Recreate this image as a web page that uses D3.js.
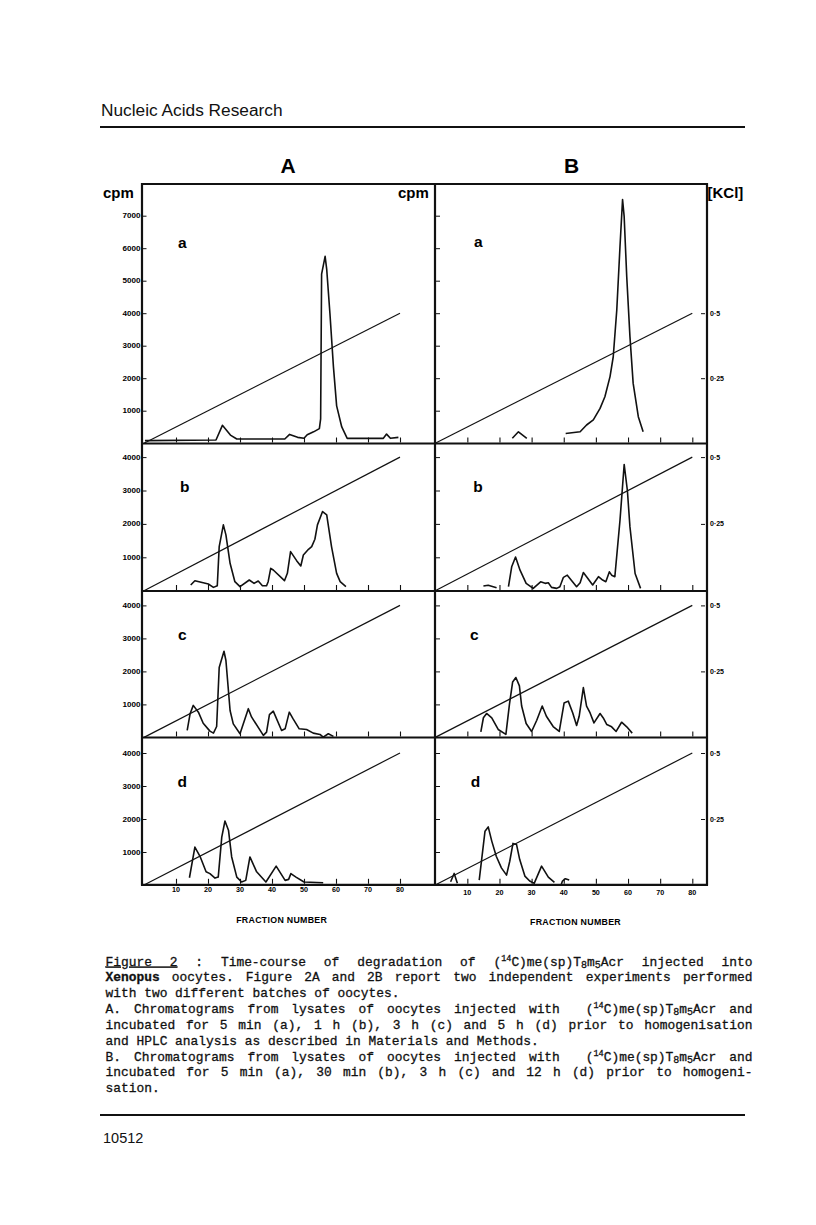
<!DOCTYPE html>
<html><head><meta charset="utf-8">
<script src="https://cdn.jsdelivr.net/npm/d3@7"></script>
<style>
body{margin:0;background:#fff}
svg{display:block}
.cap{font-family:"Liberation Mono",monospace;font-size:12.9px;white-space:pre;fill:#111;stroke:#111;stroke-width:0.3px}
</style>
</head><body>
<svg id="c" width="816" height="1225"></svg>
<script>
// ---------- DATA ----------
const columnTitles = ["A", "B"];
const panelLetters = ["a", "b", "c", "d"];
const fractionTicks = [10, 20, 30, 40, 50, 60, 70, 80];
const cpmTicksTall = [1000, 2000, 3000, 4000, 5000, 6000, 7000];
const cpmTicksShort = [1000, 2000, 3000, 4000];
const kclTicks = [0.25, 0.5];
const kclTickLabels = ["0·25", "0·5"];
const gradientFraction = [0, 80];
const gradientKCl = [0, 0.5];

// [fraction number, cpm]; null = gap in trace
const curveAa = [[0.3,80],[22.5,100],[24.5,550],[27,250],[29,130],[44,130],[45.5,270],[48,180],[50,150],[51,260],[53,350],[54.8,450],[55.2,750],[55.5,5200],[56.6,5750],[57.1,5350],[58.1,4000],[59.2,2350],[60.2,1150],[61.8,500],[63.5,150],[74.8,150],[75.8,280],[77,150],[79.5,180]];
const curveAb = [[14.6,170],[15.9,300],[18.5,240],[20.1,200],[21.7,100],[22.9,150],[23.5,1320],[24.8,1970],[25.6,1670],[26.9,820],[28.4,270],[30,120],[32.9,320],[34.4,220],[35.7,290],[37,150],[38.3,150],[38.8,270],[39.6,670],[40.4,620],[43.9,300],[44.8,520],[45.8,1170],[47.7,900],[49,740],[49.8,1070],[51.4,1240],[52.4,1320],[53.4,1540],[54.2,1970],[55.8,2370],[57.1,2270],[58.6,1320],[60.2,520],[61.3,270],[63.1,120]];
const curveAc = [[13.5,210],[14.4,715],[15.4,970],[17,765],[18.5,430],[20.6,190],[21.7,130],[22.7,330],[23.5,2120],[25,2610],[25.6,2330],[26.9,815],[27.9,410],[30,110],[32.6,870],[33.6,620],[37.3,60],[38.3,160],[39.2,690],[40.4,795],[43,210],[44.1,260],[45.4,765],[46.6,560],[48.5,260],[50.8,240],[52.9,130],[55,90],[56,10],[57.6,110],[59.2,30]];
const curveAd = [[14.2,220],[15.9,1150],[17.5,870],[19.4,400],[20.6,345],[22.2,210],[23.2,240],[24.3,1450],[25.3,1940],[26.4,1660],[27.4,850],[29,240],[30.5,90],[31.8,140],[33.1,850],[35.2,400],[38.1,90],[41.3,570],[44.1,140],[45.2,170],[45.9,345],[47.5,240],[50,90],[56,70]];
const curveBa = [[24,150],[25.9,350],[28.5,150],null,[40.6,300],[45.1,350],[47.1,560],[49.2,715],[51.3,1070],[52.8,1430],[54.4,2050],[55.4,2660],[56.5,4100],[57.5,6050],[58.3,7500],[58.8,6970],[59.6,5120],[60.6,3280],[61.6,1840],[63.2,815],[64.7,350]];
const curveBb = [[15,140],[16.5,165],[19.1,90],null,[22.8,120],[23.8,715],[25,1010],[26.4,615],[28.3,220],[30.5,70],[32.8,265],[34.2,220],[35.2,240],[36.2,100],[37.8,70],[38.8,120],[39.9,400],[41.1,465],[44,120],[45.1,240],[46.1,545],[47.1,420],[49,170],[50.8,420],[52.1,320],[53.1,270],[54.2,565],[54.9,465],[55.9,420],[57.5,2110],[58.8,3780],[59.8,3000],[60.6,1910],[62.2,515],[63.9,70]];
const curveBc = [[14.2,170],[15,595],[16,725],[17.6,595],[19.6,240],[22,90],[23.1,1000],[24.1,1680],[25.1,1815],[26.2,1560],[26.9,950],[28.3,420],[30,180],[31.6,520],[33.3,950],[34.6,640],[36.7,330],[38.6,180],[40.1,1040],[41.4,1100],[42.8,740],[44,360],[44.8,640],[46.1,1510],[47.1,950],[48.2,740],[49.4,440],[51.3,725],[52.3,590],[53.4,390],[54.9,320],[56.3,180],[58,460],[59.6,320],[61.3,130]];
const curveBd = [[4.8,100],[5.9,350],[6.9,50],null,[13.7,145],[15.5,1630],[16.5,1760],[17.6,1330],[19,870],[20.6,520],[22.2,300],[23.2,720],[24.2,1260],[25.3,1230],[26.3,770],[27.9,270],[29.4,120],[30.8,50],[33.1,570],[35.2,240],[37.1,80],null,[39.2,10],[39.6,120],[40.5,190],[41.7,150]];

const captionLines = [
  {j:true, segs:[["u","Figure 2"],["n"," : Time-course of degradation of ("],["sup","14"],["n","C)me(sp)T"],["sub","8"],["n","m"],["sub","5"],["n","Acr injected into"]]},
  {j:true, segs:[["b","Xenopus"],["n"," oocytes. Figure 2A and 2B report two independent experiments performed"]]},
  {j:false, segs:[["n","with two different batches of oocytes."]]},
  {j:true, segs:[["n","A. Chromatograms from lysates of oocytes injected with  ("],["sup","14"],["n","C)me(sp)T"],["sub","8"],["n","m"],["sub","5"],["n","Acr and"]]},
  {j:true, segs:[["n","incubated for 5 min (a), 1 h (b), 3 h (c) and 5 h (d) prior to homogenisation"]]},
  {j:false, segs:[["n","and HPLC analysis as described in Materials and Methods."]]},
  {j:true, segs:[["n","B. Chromatograms from lysates of oocytes injected with  ("],["sup","14"],["n","C)me(sp)T"],["sub","8"],["n","m"],["sub","5"],["n","Acr and"]]},
  {j:true, segs:[["n","incubated for 5 min (a), 30 min (b), 3 h (c) and 12 h (d) prior to homogeni-"]]},
  {j:false, segs:[["n","sation."]]}
];

// ---------- LAYOUT ----------
const svg = d3.select("#c");
const cols = [
  {left:142, right:435, x0:144, x80:400, curves:[curveAa,curveAb,curveAc,curveAd]},
  {left:435, right:707, x0:435.2, x80:692.3, curves:[curveBa,curveBb,curveBc,curveBd]}
];
const rows = [
  {top:184, bottom:443.5, y0:443.2, k:32.5, ticks:cpmTicksTall},
  {top:443.5, bottom:591, y0:590.7, k:33.4, ticks:cpmTicksShort},
  {top:591, bottom:737.5, y0:737.4, k:33.0, ticks:cpmTicksShort},
  {top:737.5, bottom:884.8, y0:885, k:33.0, ticks:cpmTicksShort}
];
const sans = "'Liberation Sans', Arial, sans-serif";

// header
svg.append("text").attr("x",101).attr("y",116).attr("font-family",sans)
  .attr("font-size",17.3).attr("fill","#111").text("Nucleic Acids Research");
svg.append("line").attr("x1",100).attr("x2",745).attr("y1",127).attr("y2",127)
  .attr("stroke","#111").attr("stroke-width",2);

// column titles
[288, 571.5].forEach((cx,i)=>{
  svg.append("text").attr("x",cx).attr("y",172.5).attr("text-anchor","middle")
    .attr("font-family",sans).attr("font-weight","bold").attr("font-size",21).text(columnTitles[i]);
});
svg.append("text").attr("x",103).attr("y",197.5).attr("font-family",sans).attr("font-weight","bold").attr("font-size",15).text("cpm");
svg.append("text").attr("x",398).attr("y",197.5).attr("font-family",sans).attr("font-weight","bold").attr("font-size",15).text("cpm");
svg.append("text").attr("x",707.5).attr("y",197.5).attr("font-family",sans).attr("font-weight","bold").attr("font-size",15).text("[KCl]");

const frame = svg.append("g").attr("stroke","#111").attr("stroke-width",2.2).attr("fill","none");
[142,435,707].forEach(x=>frame.append("line").attr("x1",x).attr("x2",x).attr("y1",183).attr("y2",885.5));
[184,443.5,591,737.5,884.8].forEach(y=>frame.append("line").attr("x1",141).attr("x2",708).attr("y1",y).attr("y2",y));

const letterPos = [[178,248.3],[180,492.3],[178,640],[177.5,787.3]];
const letterPosB = [[474,247.3],[473.3,492.3],[470,640],[470.7,787.3]];

cols.forEach((col,ci)=>{
  const x = d3.scaleLinear().domain([0,80]).range([col.x0,col.x80]);
  rows.forEach((row,ri)=>{
    const y = d3.scaleLinear().domain([0,1000]).range([row.y0,row.y0-row.k]);
    const yK = d3.scaleLinear().domain([0,0.5]).range([row.y0,row.y0-4*row.k]);
    const g = svg.append("g");
    // left cpm ticks (inside)
    const lt = g.append("g").attr("transform",`translate(${col.left+1},0)`)
      .call(d3.axisRight(y).tickValues(row.ticks).tickSize(ci===0?3.5:4).tickFormat(""));
    lt.select(".domain").remove();
    lt.selectAll("line").attr("stroke","#111").attr("stroke-width",1);
    if(ci===0){
      g.selectAll(".lab").data(row.ticks).join("text")
        .attr("x",col.left-1.5).attr("y",d=>y(d)+2.5).attr("text-anchor","end")
        .attr("font-family",sans).attr("font-weight","bold").attr("font-size",7)
        .attr("textLength",18).attr("lengthAdjust","spacingAndGlyphs").text(d=>d);
    }
    // bottom fraction ticks (inside, upward)
    const bt = g.append("g").attr("transform",`translate(0,${row.bottom-1})`)
      .call(d3.axisTop(x).tickValues(fractionTicks).tickSize(5).tickFormat(""));
    bt.select(".domain").remove();
    bt.selectAll("line").attr("stroke","#111").attr("stroke-width",1.1);
    if(ri===3){
      g.selectAll(".xl").data(fractionTicks).join("text")
        .attr("x",d=>x(d)).attr("y",row.bottom+(ci===0?7.5:10)).attr("text-anchor","middle")
        .attr("font-family",sans).attr("font-weight","bold").attr("font-size",7.2).text(d=>d);
    }
    // right KCl axis (column B)
    if(ci===1){
      const rt = g.append("g").attr("transform",`translate(${col.right-2},0)`)
        .call(d3.axisLeft(yK).tickValues(kclTicks).tickSize(4).tickFormat(""));
      rt.select(".domain").remove();
      rt.selectAll("line").attr("stroke","#111").attr("stroke-width",1);
      g.selectAll(".kl").data(kclTicks).join("text")
        .attr("x",col.right+3).attr("y",d=>yK(d)+2.5)
        .attr("font-family",sans).attr("font-weight","bold").attr("font-size",7)
        .text((d,i)=>kclTickLabels[i]);
    }
    // gradient line
    const gl = gradientFraction.map((f,i)=>[f,gradientKCl[i]]);
    g.append("path").attr("d",d3.line().x(d=>x(d[0])).y(d=>yK(d[1]))(gl))
      .attr("fill","none").attr("stroke","#111").attr("stroke-width",1.2);
    // trace
    const line = d3.line().defined(d=>d!==null).x(d=>x(d[0])).y(d=>y(d[1]));
    g.append("path").attr("d",line(col.curves[ri])).attr("fill","none")
      .attr("stroke","#111").attr("stroke-width",1.6).attr("stroke-linejoin","round");
    // panel letter
    const lp = ci===0?letterPos[ri]:letterPosB[ri];
    g.append("text").attr("x",lp[0]).attr("y",lp[1]).attr("font-family",sans)
      .attr("font-weight","bold").attr("font-size",15.5).text(panelLetters[ri]);
  });
});

// x-axis titles
[[281.7,923],[575.5,925]].forEach(p=>{
  svg.append("text").attr("x",p[0]).attr("y",p[1]).attr("text-anchor","middle")
    .attr("font-family",sans).attr("font-weight","bold").attr("font-size",8.8)
    .attr("letter-spacing",0.3).text("FRACTION NUMBER");
});

// caption
const capLeft = 105.5, capRight = 752.5, capTop = 965.5, capStep = 15.85;
captionLines.forEach((ln,i)=>{
  const t = svg.append("text").attr("class","cap").attr("x",capLeft).attr("y",capTop+i*capStep);
  let pending = 0;
  ln.segs.forEach(([k,s])=>{
    const ts = t.append("tspan").text(s);
    let shift = 0;
    if(k==="sup"){ ts.attr("font-size",8.5); shift = -5; }
    else if(k==="sub"){ ts.attr("font-size",10); shift = 2.2; }
    else if(k==="u"){ ts.attr("text-decoration","underline"); }
    else if(k==="b"){ ts.attr("font-weight","bold"); }
    const dy = pending + shift;
    if(dy!==0) ts.attr("dy",dy);
    pending = -shift;
  });
  if(ln.j){
    const nat = t.node().getComputedTextLength();
    const full = ln.segs.map(s=>s[1]).join("");
    const spaces = (full.match(/ /g)||[]).length;
    const extra = (capRight-capLeft) - nat;
    if(spaces>0) t.style("word-spacing",(extra/spaces)+"px");
  }
});

// footer
svg.append("line").attr("x1",100).attr("x2",745).attr("y1",1115).attr("y2",1115)
  .attr("stroke","#111").attr("stroke-width",2);
svg.append("text").attr("x",103).attr("y",1143).attr("font-family",sans)
  .attr("font-size",14.5).attr("fill","#111").text("10512");
</script>
</body></html>
